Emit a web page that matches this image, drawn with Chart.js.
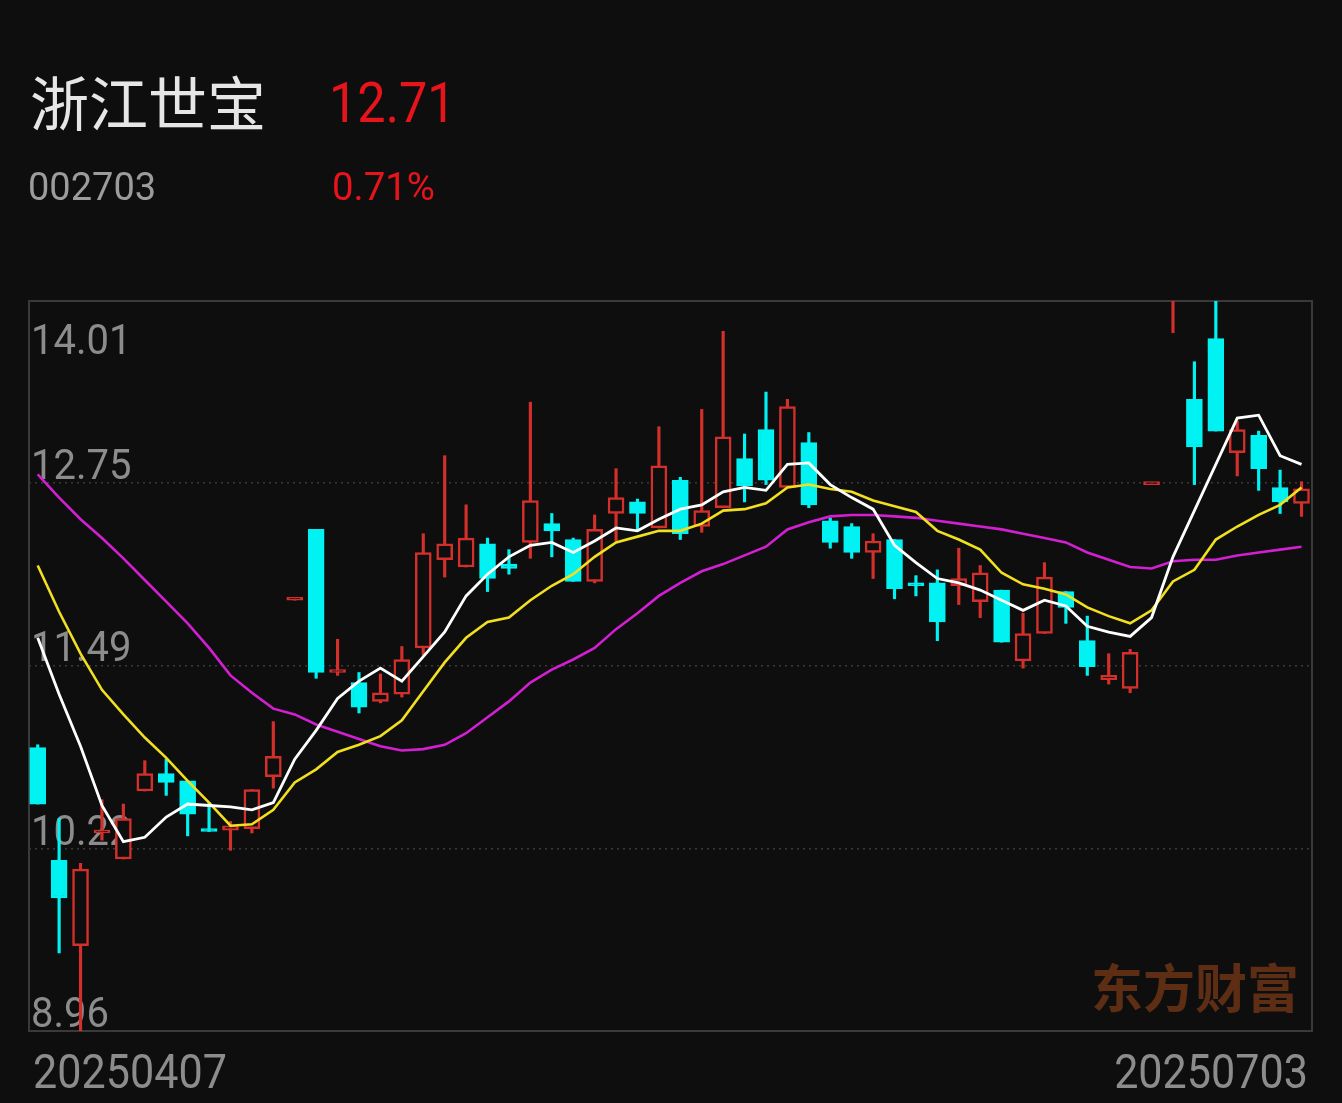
<!DOCTYPE html>
<html lang="zh-CN">
<head>
<meta charset="UTF-8">
<title>浙江世宝 日K</title>
<script src="https://cdn.jsdelivr.net/npm/chart.js"></script>
<style>
  html, body { margin: 0; padding: 0; background: #0e0e0e; }
  body { width: 1342px; height: 1103px; overflow: hidden; }
  #kline { display: block; }
</style>
</head>
<body>
<canvas id="kline" width="1342" height="1103"></canvas>
<script>
// 浙江世宝 002703 日K，20250407 - 20250703
var opens  = [10.92, 10.14, 9.55, 10.33, 10.15, 10.62, 10.74, 10.69, 10.35, 10.35,
              10.36, 10.72, 11.94, 12.43, 11.44, 11.37, 11.24, 11.29, 11.61, 12.22,
              12.17, 12.33, 12.19, 12.34, 12.47, 12.36, 12.07, 12.54, 12.62, 12.44,
              12.77, 12.45, 12.58, 12.92, 13.12, 12.72, 13.03, 12.49, 12.45, 12.27,
              12.36, 12.05, 12.06, 12.04, 11.93, 12.01, 11.52, 11.71, 12.00, 11.66,
              11.39, 11.33, 12.74, 14.01, 13.33, 13.75, 12.96, 13.08, 12.72, 12.61];
var highs  = [10.94, 10.43, 10.12, 10.56, 10.53, 10.83, 10.84, 10.69, 10.54, 10.41,
              10.63, 11.10, 11.95, 12.43, 11.67, 11.44, 11.43, 11.62, 12.40, 12.94,
              12.60, 12.37, 12.29, 13.31, 12.54, 12.37, 12.53, 12.85, 12.64, 13.14,
              12.79, 13.26, 13.80, 13.09, 13.38, 13.33, 13.10, 12.51, 12.47, 12.40,
              12.36, 12.11, 12.15, 12.30, 12.18, 12.01, 11.85, 12.20, 12.00, 11.83,
              11.57, 11.60, 12.74, 14.01, 13.59, 14.01, 13.18, 13.11, 12.84, 12.76];
var lows   = [10.53, 9.50, 8.96, 10.28, 10.15, 10.62, 10.59, 10.31, 10.34, 10.21,
              10.33, 10.64, 11.94, 11.40, 11.42, 11.16, 11.23, 11.27, 11.56, 12.10,
              12.17, 12.00, 12.12, 12.23, 12.24, 12.07, 12.06, 12.35, 12.42, 12.44,
              12.36, 12.41, 12.58, 12.62, 12.74, 12.72, 12.58, 12.30, 12.23, 12.09,
              11.95, 11.97, 11.66, 11.91, 11.82, 11.65, 11.47, 11.71, 11.78, 11.42,
              11.36, 11.30, 12.74, 13.79, 12.74, 13.11, 12.80, 12.70, 12.54, 12.52];
var closes = [10.53, 9.88, 10.08, 10.35, 10.43, 10.74, 10.68, 10.46, 10.34, 10.38,
              10.63, 10.86, 11.95, 11.44, 11.45, 11.20, 11.30, 11.53, 12.27, 12.33,
              12.37, 12.09, 12.16, 12.63, 12.42, 12.07, 12.43, 12.65, 12.54, 12.87,
              12.40, 12.56, 13.07, 12.73, 12.77, 13.28, 12.60, 12.34, 12.27, 12.35,
              12.02, 12.04, 11.79, 12.09, 12.13, 11.65, 11.71, 12.10, 11.89, 11.48,
              11.42, 11.58, 12.74, 14.01, 13.00, 13.11, 13.12, 12.85, 12.62, 12.71];

// 均线
var ma5  = [11.68, 11.29, 10.93, 10.52, 10.27, 10.30, 10.44, 10.53, 10.52, 10.51,
            10.49, 10.54, 10.84, 11.04, 11.26, 11.38, 11.47, 11.38, 11.55, 11.72,
            11.97, 12.12, 12.24, 12.32, 12.34, 12.27, 12.35, 12.44, 12.42, 12.50,
            12.57, 12.60, 12.69, 12.72, 12.70, 12.88, 12.89, 12.74, 12.65, 12.57,
            12.32, 12.20, 12.09, 12.06, 12.01, 11.94, 11.87, 11.94, 11.90, 11.76,
            11.72, 11.69, 11.82, 12.24, 12.56, 12.88, 13.20, 13.22, 12.94, 12.88];
var ma10 = [12.18, 11.86, 11.57, 11.32, 11.15, 10.99, 10.85, 10.69, 10.54, 10.38,
            10.39, 10.49, 10.68, 10.77, 10.89, 10.94, 11.00, 11.11, 11.31, 11.51,
            11.68, 11.79, 11.82, 11.94, 12.04, 12.12, 12.24, 12.34, 12.38, 12.42,
            12.42, 12.47, 12.56, 12.57, 12.61, 12.72, 12.74, 12.71, 12.69, 12.63,
            12.59, 12.55, 12.42, 12.36, 12.29, 12.13, 12.05, 12.02, 11.98, 11.89,
            11.83, 11.78, 11.87, 12.07, 12.15, 12.36, 12.45, 12.53, 12.60, 12.72];
var ma20 = [12.81, 12.65, 12.50, 12.37, 12.23, 12.08, 11.93, 11.78, 11.61, 11.42,
            11.30, 11.19, 11.15, 11.08, 11.03, 10.98, 10.93, 10.90, 10.91, 10.94,
            11.02, 11.13, 11.24, 11.37, 11.46, 11.53, 11.61, 11.74, 11.85, 11.97,
            12.06, 12.14, 12.19, 12.25, 12.31, 12.43, 12.48, 12.52, 12.53, 12.53,
            12.52, 12.51, 12.49, 12.47, 12.45, 12.43, 12.40, 12.37, 12.34, 12.27,
            12.22, 12.17, 12.16, 12.21, 12.22, 12.22, 12.25, 12.27, 12.29, 12.31];

var yTicks = [14.01, 12.75, 11.49, 10.22, 8.96];
var dateLabels = ['20250407', '20250703'];

var BG = '#0e0e0e';
var RED = '#d4302b';
var CYAN = '#00f2f2';
var GREY = '#8c8c8c';

function isUp(i) { return closes[i] >= opens[i]; }

var wickData = highs.map(function (h, i) { return { x: i, y: [lows[i], h] }; });
var bodyData = opens.map(function (o, i) { return { x: i, y: [o, closes[i]] }; });
function toPoints(arr) { return arr.map(function (v, i) { return { x: i, y: v }; }); }

// 画一段横向压缩的文字
function scaledText(ctx, text, x, y, sx, align) {
    ctx.save();
    ctx.translate(x, y);
    ctx.scale(sx, 1);
    ctx.textAlign = align || 'left';
    ctx.textBaseline = 'alphabetic';
    ctx.fillText(text, 0, 0);
    ctx.restore();
}

var decorPlugin = {
    id: 'decor',
    beforeDatasetsDraw: function (chart) {
        var ctx = chart.ctx, a = chart.chartArea, ys = chart.scales.y;

        // 边框
        ctx.save();
        ctx.strokeStyle = '#3a3a3a';
        ctx.lineWidth = 2;
        ctx.strokeRect(a.left, a.top, a.right - a.left, a.bottom - a.top);

        // 水印
        ctx.fillStyle = '#5e2e14';
        ctx.font = 'bold 52px "Noto Sans CJK SC"';
        ctx.textBaseline = 'alphabetic';
        ctx.fillText('东方财富', 1091, 1008);

        // 价格刻度
        ctx.fillStyle = GREY;
        ctx.font = '43px Roboto';
        yTicks.forEach(function (v, i) {
            var py = ys.getPixelForValue(v);
            var base = i === 0 ? py + 53 : py - 4;
            scaledText(ctx, v.toFixed(2), a.left + 2, base, 0.93);
        });

        // 日期
        ctx.font = '49px Roboto';
        scaledText(ctx, dateLabels[0], a.left + 4, 1088, 0.88, 'left');
        scaledText(ctx, dateLabels[1], a.right - 4, 1088, 0.88, 'right');
        ctx.restore();
    },
    afterDraw: function (chart) {
        var ctx = chart.ctx;
        ctx.save();
        ctx.fillStyle = '#e6e6e6';
        ctx.font = '59px "Noto Sans CJK SC"';
        ctx.fillText('浙江世宝', 30, 126);

        ctx.fillStyle = '#e8141c';
        ctx.font = '56px Roboto';
        scaledText(ctx, '12.71', 329, 122, 0.9);
        ctx.font = '38px Roboto';
        scaledText(ctx, '0.71%', 332, 200, 1.01);

        ctx.fillStyle = '#9c9c9c';
        scaledText(ctx, '002703', 28, 200, 1);
        ctx.restore();
    }
};

new Chart(document.getElementById('kline'), {
    data: {
        datasets: [
            { type: 'line', label: 'MA5', data: toPoints(ma5), borderColor: '#ffffff',
              borderWidth: 2.8, pointRadius: 0, tension: 0, order: 0 },
            { type: 'line', label: 'MA10', data: toPoints(ma10), borderColor: '#f2e01e',
              borderWidth: 2.6, pointRadius: 0, tension: 0, order: 0 },
            { type: 'line', label: 'MA20', data: toPoints(ma20), borderColor: '#d21fd2',
              borderWidth: 2.6, pointRadius: 0, tension: 0, order: 0 },
            { type: 'bar', label: 'body', data: bodyData, order: 1, grouped: false,
              barThickness: 16, minBarLength: 3, borderWidth: 2.5, borderSkipped: false,
              borderColor: function (c) { return isUp(c.dataIndex) ? RED : CYAN; },
              backgroundColor: function (c) { return isUp(c.dataIndex) ? BG : CYAN; } },
            { type: 'bar', label: 'wick', data: wickData, order: 2, grouped: false,
              barThickness: 2.5, minBarLength: 1, borderWidth: 0,
              backgroundColor: function (c) { return isUp(c.dataIndex) ? RED : CYAN; } }
        ]
    },
    options: {
        responsive: false,
        animation: false,
        devicePixelRatio: 1,
        events: [],
        layout: { padding: { left: 29, top: 301, right: 30, bottom: 72 } },
        plugins: { legend: { display: false }, tooltip: { enabled: false } },
        scales: {
            x: { type: 'linear', min: -0.406, max: 59.49, offset: false, display: false },
            y: {
                type: 'linear', min: 8.96, max: 14.01,
                afterBuildTicks: function (s) { s.ticks = yTicks.map(function (v) { return { value: v }; }); },
                ticks: { display: false },
                border: { display: false, dash: [2, 4] },
                grid: {
                    drawTicks: false, lineWidth: 1.5,
                    color: function (c) {
                        var v = c.tick && c.tick.value;
                        return (v === yTicks[0] || v === yTicks[yTicks.length - 1]) ? 'rgba(0,0,0,0)' : '#3a3a3a';
                    }
                }
            }
        }
    },
    plugins: [decorPlugin]
});
</script>
</body>
</html>
